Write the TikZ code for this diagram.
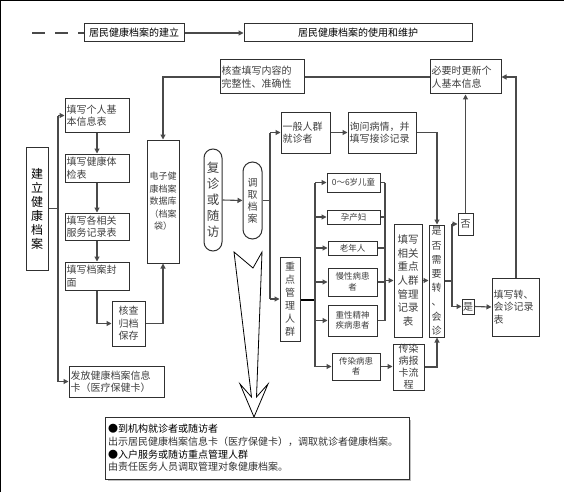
\documentclass[tikz,border=0pt]{standalone}
\usepackage{fontspec}
\newfontfamily\cjk{Noto Sans CJK SC}
\usetikzlibrary{arrows.meta}
\definecolor{boxc}{HTML}{303030}
\definecolor{linec}{HTML}{4A4A4A}
\definecolor{txtc}{HTML}{404040}
\tikzset{
  bx/.style={draw=boxc, line width=1pt, text=txtc, inner sep=1.5pt, fill=white,
    font=\cjk\fontsize{10}{12.5}\selectfont},
  sz/.style 2 args={minimum width=#1pt, minimum height=#2pt},
  lt/.style={align=left, text width=#1pt},
  vt/.style={align=center},
  ln/.style={draw=linec, line width=1.1pt},
  ar/.style={ln, -{Triangle[length=5pt,width=5pt]}},
  small/.style={font=\cjk\fontsize{8.5}{10.5}\selectfont},
}
\begin{document}
\begin{tikzpicture}[x=1pt,y=-1pt]
\fill[white] (0,0) rectangle (564,492);
\useasboundingbox (0,0) rectangle (564,492);
% frame
\draw[black, line width=1.2pt] (0.6,492) -- (0.6,0.6) -- (564,0.6);

% top row
\node[bx, sz={100}{18}, text=black] (t1) at (134,33) {居民健康档案的建立};
\node[bx, sz={228}{18}, text=black] (t2) at (358,33) {居民健康档案的使用和维护};
\coordinate (d0) at (32,33);
\draw[ln, dash pattern=on 13pt off 10pt] (d0) -- (t1.west);
\draw[ar] (t1.east) -- (t2.west);

% check & update
\node[bx, sz={84}{34}, lt=81] (chk) at (262,77) {核查填写内容的\\完整性、准确性};
\node[bx, sz={71}{34}, lt=68] (upd) at (465.5,77) {必要时更新个\\人基本信息};

% left column
\node[bx, sz={22}{123}, vt, text=black, font=\cjk\fontsize{12}{14}\selectfont] (build) at (37,208.5) {建\\立\\健\\康\\档\\案};
\node[bx, sz={64}{33}, lt=61] (f1) at (97,115.5) {填写个人基\\本信息表};
\node[bx, sz={64}{28}, lt=61] (f2) at (97,168) {填写健康体\\检表};
\node[bx, sz={64}{27}, lt=61] (f3) at (97,226.5) {填写各相关\\服务记录表};
\node[bx, sz={64}{28}, lt=61] (f4) at (97,276) {填写档案封\\面};
\node[bx, sz={33}{45}, vt] (f5) at (128.5,323.5) {核查\\归档\\保存};
\node[bx, sz={32}{123}, vt, inner sep=0.5pt, font=\cjk\fontsize{9}{12.5}\selectfont] (db) at (163,201.5) {电子健\\康档案\\数据库\\（档案\\袋）};
\node[bx, sz={95}{31}, lt=92] (card) at (116.5,381.5) {发放健康档案信息\\卡（医疗保健卡）};

\coordinate (b1) at (58,208.5);
\coordinate (b2) at (58,115.5);
\coordinate (b3) at (58,381.5);
\draw[ln] (build.east) -- (b1);
\draw[ln] (b2) -- (b3);
\draw[ar] (b2) -- (f1.west);
\draw[ar] (b3) -- (card.west);
\draw[ar] (f1) -- (f2);
\draw[ar] (f2) -- (f3);
\draw[ar] (f3) -- (f4);
\coordinate (f4c) at (97,323.5);
\draw[ar] (f4.south) -- (f4c) -- (f5.west);
\coordinate (f5c) at (163,323.5);
\draw[ar] (f5.east) -- (f5c) -- (db.south);
\coordinate (chkc) at (163,77);
\draw[ar] (chk.west) -- (chkc) -- (db.north);
\draw[ln] (upd.west) -- (chk.east);

% middle ovals
\node[bx, sz={18}{102}, vt, rounded corners=9pt, inner sep=0pt, font=\cjk\fontsize{12.5}{16}\selectfont] (rev) at (213,200) {复\\诊\\或\\随\\访};
\node[bx, sz={19}{77}, vt, rounded corners=9.5pt, inner sep=0pt, font=\cjk\fontsize{10}{12}\selectfont] (fet) at (252.5,200.5) {调\\取\\档\\案};
\draw[ar] (rev.east) -- (fet.west);

\node[bx, sz={49}{41}, lt=46] (gen) at (305.5,132.5) {一般人群\\就诊者};
\node[bx, sz={68}{41}, lt=65] (ask) at (382,132.5) {询问病情，并\\填写接诊记录};
\node[bx, sz={20}{84}, vt, inner sep=0.5pt, font=\cjk\fontsize{10}{13}\selectfont] (key) at (290,299) {重\\点\\管\\理\\人\\群};

\coordinate (m0) at (270,200.5);
\coordinate (m1) at (270,132.5);
\coordinate (m2) at (270,299);
\draw[ln] (fet.east) -- (m0);
\draw[ln] (m1) -- (m2);
\draw[ar] (m1) -- (gen.west);
\draw[ar] (m2) -- (key.west);
\draw[ar] (gen.east) -- (ask.west);

% key groups
\node[bx, sz={53}{19}, small] (c1) at (353.5,182.5) {0～6岁儿童};
\node[bx, sz={53}{14}, small] (c2) at (353.5,217) {孕产妇};
\node[bx, sz={49}{14}, small] (c3) at (352.5,248) {老年人};
\node[bx, sz={49}{28}, small, align=center] (c4) at (352.5,282) {慢性病患\\者};
\node[bx, sz={49}{31}, small, align=center] (c5) at (352.5,320.5) {重性精神\\疾病患者};
\node[bx, sz={48}{27}, small, align=center] (c6) at (356,366.5) {传染病患\\者};

\coordinate (k0) at (315,300);
\coordinate (k1) at (315,182.5);
\coordinate (k6) at (315,366.5);
\draw[draw=black, line width=2pt] (key.east |- k0) -- (k0);
\draw[ln, line width=1.5pt] (k1) -- (k6);
\draw[ar] (k1) -- (c1.west);
\draw[ar] (315,217) -- (c2.west);
\draw[ar] (315,248) -- (c3.west);
\draw[ar] (315,282) -- (c4.west);
\draw[ar] (315,320.5) -- (c5.west);
\draw[ar] (k6) -- (c6.west);

\node[bx, sz={28}{113}, vt, font=\cjk\fontsize{10.5}{13.7}\selectfont] (rec) at (408,280.5) {填写\\相关\\重点\\人群\\管理\\记录\\表};
\node[bx, sz={15}{112}, vt, inner sep=0pt, font=\cjk\fontsize{10}{14.2}\selectfont] (need) at (436.5,281) {是\\否\\需\\要\\转\\、\\会\\诊};
\node[bx, sz={31}{46}, vt, inner sep=0pt, font=\cjk\fontsize{10}{12}\selectfont] (rep) at (408.5,367) {传染\\病报\\卡流\\程};

\coordinate (r1) at (385,182.5);
\coordinate (r5) at (385,320.5);
\coordinate (rm) at (385,280.5);
\draw[ln] (c1.east) -- (r1);
\draw[ln] (c2.east) -- (385,217);
\draw[ln] (c3.east) -- (385,248);
\draw[ln] (c4.east) -- (385,282);
\draw[ln] (c5.east) -- (r5);
\draw[ln] (r1) -- (r5);
\draw[ar] (rm) -- (rec.west);
\draw[ar] (rec.east) -- (need.west |- rec.east);
\draw[ar] (c6.east) -- (rep.west |- c6.east);
\coordinate (rp) at (437,367);
\draw[ar] (rep.east |- rp) -- (rp) -- (need.south -| rp);
\coordinate (ak) at (437,132.5);
\draw[ar] (ask.east) -- (ak) -- (need.north -| ak);

% decision
\node[bx, sz={15}{22}, inner sep=0pt] (no) at (465.5,224) {否};
\node[bx, sz={12}{15}, inner sep=0pt] (yes) at (468,306.5) {是};
\node[bx, sz={47}{58}, lt=44] (ref) at (515.5,307) {填写转、\\会诊记录\\表};
\coordinate (n0) at (452,281);
\coordinate (n1) at (452,224);
\coordinate (n2) at (452,306.5);
\draw[ln] (need.east) -- (n0);
\draw[ln] (n1) -- (n2);
\draw[ar] (n1) -- (no.west);
\draw[ar] (n2) -- (yes.west);
\draw[ar] (yes.east) -- (ref.west);
\draw[ar] (no.north) -- (upd.south);
\coordinate (u1) at (516,77);
\draw[ar] (ref.north -| u1) -- (u1) -- (upd.east);

% hollow arrow
\draw[black, line width=0.8pt, fill=white, line join=miter]
  (234,252) -- (253,268) -- (262,252) -- (256.5,397) -- (268,384) -- (254,417)
  -- (240,384) -- (251.5,397) -- cycle;

% bottom note with faint shadow
\fill[black!25] (108,420) rectangle (411,481);
\node[bx, sz={304}{62}, lt=298, text=black!80, font=\cjk\fontsize{10}{12.7}\selectfont] (note) at (257,448)
  {{\color{black}●到机构就诊者或随访者}\\
   出示居民健康档案信息卡（医疗保健卡），调取就诊者健康档案。\\
   {\color{black}●入户服务或随访重点管理人群}\\
   由责任医务人员调取管理对象健康档案。};
\end{tikzpicture}
\end{document}
